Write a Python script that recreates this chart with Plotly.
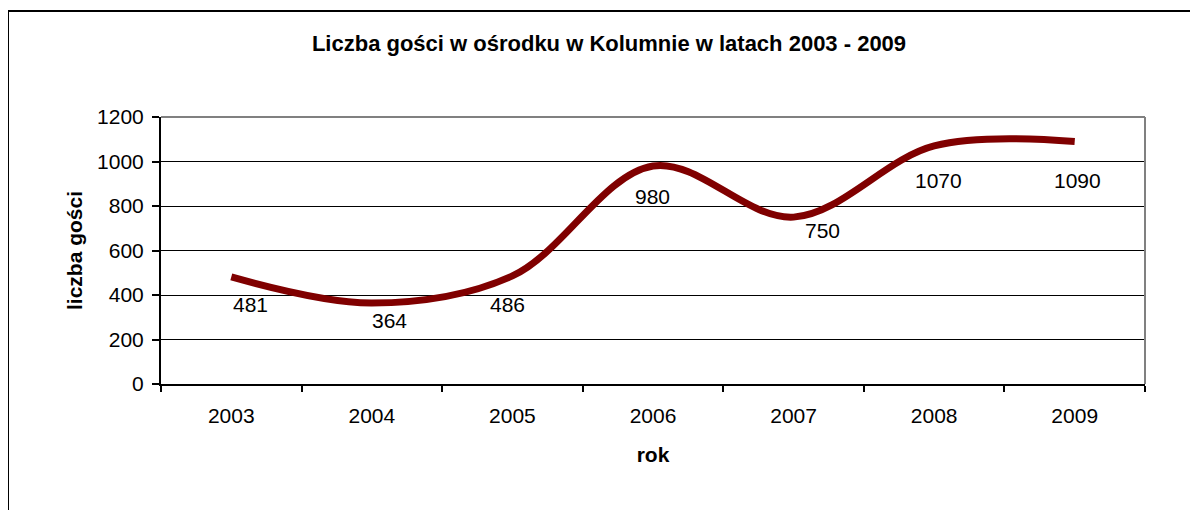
import plotly.graph_objects as go

years = ["2003", "2004", "2005", "2006", "2007", "2008", "2009"]
guests = [481, 364, 486, 980, 750, 1070, 1090]
y_ticks = [0, 200, 400, 600, 800, 1000, 1200]

FONT = "Liberation Sans, Arial, sans-serif"

# label placement (pixel offsets below each point, Excel-like)
label_dx = [19, 18, -5, -1, 29, 4, 3]
label_dy = [28, 17, 29, 31, 13, 35, 39]

# page has 8px body margin; plot area in screenshot: x 161..1145, y 117..384
L, T, R, B = 153, 109, 61, 134
PW, PH = 1145 - 161, 384 - 117

fig = go.Figure()
fig.add_trace(go.Scatter(
    x=years, y=guests,
    mode="lines",
    line=dict(color="#800000", width=7, shape="spline", smoothing=1),
    hoverinfo="skip",
))

annotations = []
for i, (v, dx, dy) in enumerate(zip(guests, label_dx, label_dy)):
    annotations.append(dict(
        x=i, y=v, xref="x", yref="y", text=str(v), showarrow=False,
        xanchor="center", yanchor="middle", xshift=dx, yshift=-dy,
        font=dict(family=FONT, size=21, color="black"),
    ))

fig.update_layout(
    width=1198, height=510,
    margin=dict(l=L, r=R, t=T, b=B),
    paper_bgcolor="white", plot_bgcolor="white",
    showlegend=False,
    font=dict(family=FONT, size=21, color="black"),
    title=dict(text="<b>Liczba gości w ośrodku w Kolumnie w latach 2003 - 2009</b>",
               xref="paper", x=(609 - 161) / PW, xanchor="center",
               yref="container", y=1 - (43 - 8) / 510, yanchor="middle",
               font=dict(family=FONT, size=22, color="black")),
    xaxis=dict(
        type="category", tickson="boundaries",
        ticks="outside", ticklen=6, tickcolor="black", tickwidth=1.5,
        showgrid=False, showline=True, linecolor="black", linewidth=2,
        tickfont=dict(family=FONT, size=21), ticklabelstandoff=12,
        title=dict(text="<b>rok</b>", standoff=21, font=dict(family=FONT, size=21)),
        range=[-0.5, 6.5],
    ),
    yaxis=dict(
        range=[0, 1200], tickvals=y_ticks,
        ticks="outside", ticklen=7, tickcolor="black", tickwidth=1.5,
        showgrid=True, gridcolor="black", gridwidth=1.3,
        showline=True, linecolor="black", linewidth=2,
        zeroline=False,
        tickfont=dict(family=FONT, size=21), ticklabelstandoff=4,
        title=dict(text="<b>liczba gości</b>", standoff=9, font=dict(family=FONT, size=21)),
    ),
    annotations=annotations,
    shapes=[
        dict(type="line", xref="paper", yref="paper", x0=0, x1=1, y0=1, y1=1,
             line=dict(color="#808080", width=2), layer="above"),
        dict(type="line", xref="paper", yref="paper", x0=1, x1=1, y0=0, y1=1,
             line=dict(color="#808080", width=2), layer="above"),
        dict(type="rect", xref="paper", yref="paper",
             x0=(8 - 161) / PW, x1=(1230 - 161) / PW,
             y0=(384 - 540) / PH, y1=(384 - 11) / PH,
             line=dict(color="black", width=2), layer="above"),
    ],
)

fig.write_html("out.html")
